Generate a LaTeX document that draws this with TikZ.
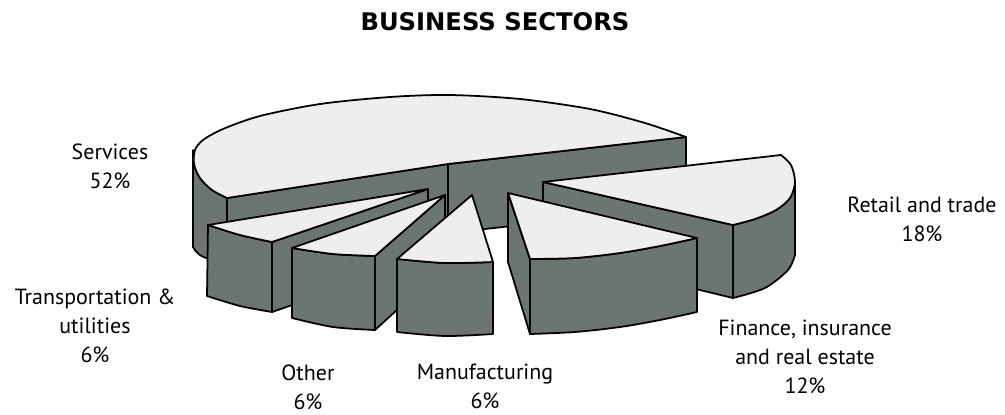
\documentclass[tikz,border=0pt]{standalone}
\usepackage{fontspec}
\setmainfont{PT Sans}
\newfontfamily\headfont{DejaVu Sans}
\usepackage{xcolor}
\usepackage{tikz}

\definecolor{pietop}{RGB}{238,238,238}
\definecolor{pieside}{RGB}{108,118,112}

\begin{document}
\begin{tikzpicture}[x=0.02cm,y=-0.02cm,line width=1pt,line join=round,
    topface/.style={draw=black,fill=pietop},
    sideface/.style={draw=black,fill=pieside},
    lbl/.style={align=center,inner sep=0pt,font=\fontsize{12.5}{16.6}\selectfont}]
        \useasboundingbox (0,0) rectangle (1005,414);
             \filldraw[sideface] (193,150) -- (193,247) .. controls (196,253) and (201,257) .. (210,259) -- (227,268) -- plot[smooth] coordinates {(227,198) (212,190) (200,178) (194,164) (193,150)} -- cycle;
             \filldraw[sideface] (227,198) -- (448,164) -- (448,233) -- (227,268) -- cycle;
             \filldraw[sideface] (448,164) -- (686,137) -- (686,207) -- (448,233) -- cycle;
             \filldraw[topface] plot[smooth] coordinates {(227,198) (212,190) (200,178) (194,164) (195,150) (203,140) (223,129) (260,116) (320,104) (390,97) (450,95) (520,99) (590,109) (645,123) (686,137)} -- (448,164) -- cycle;
             \filldraw[sideface] plot[smooth] coordinates {(733,225) (755,219) (776,210) (790,198) (795,182)} -- (795,255) -- plot[smooth] coordinates {(795,255) (788,270) (765,288) (733,298)} -- cycle;
             \filldraw[sideface] (543,182) -- (733,225) -- (733,298) -- (543,252) -- cycle;
             \filldraw[topface] (543,182) -- plot[smooth] coordinates {(781,155) (791,165) (795,182) (790,198) (776,210) (755,219) (733,225)} -- cycle;
             \filldraw[sideface] (272,242) -- (428,189) -- (428,258) -- (272,312) -- cycle;
             \filldraw[sideface] plot[smooth] coordinates {(208,225) (240,235) (272,242)} -- plot[smooth] coordinates {(272,312) (240,306) (207,296)} -- cycle;
             \filldraw[topface] (428,189) -- plot[smooth] coordinates {(208,225) (240,235) (272,242)} -- cycle;
             \filldraw[sideface] (375,256) -- (445,195) -- (445,266) -- (375,330) -- cycle;
             \filldraw[sideface] plot[smooth] coordinates {(292,248) (333,254) (375,256)} -- plot[smooth] coordinates {(375,330) (333,327) (292,318)} -- cycle;
             \filldraw[topface] (445,195) -- plot[smooth] coordinates {(292,248) (333,254) (375,256)} -- cycle;
             \filldraw[sideface] plot[smooth] coordinates {(397,259) (445,263) (493,262)} -- plot[smooth] coordinates {(493,334) (445,336) (397,332)} -- cycle;
             \filldraw[topface] (472,195) -- plot[smooth] coordinates {(397,259) (445,263) (493,262)} -- cycle;
             \filldraw[sideface] (508,193) -- (530,259) -- (530,334) -- (508,262) -- cycle;
             \filldraw[sideface] plot[smooth] coordinates {(530,259) (575,258) (620,253) (660,246) (697,238)} -- plot[smooth] coordinates {(697,312) (660,320) (620,327) (575,332) (530,334)} -- cycle;
             \filldraw[topface] (508,193) -- plot[smooth] coordinates {(530,259) (575,258) (620,253) (660,246) (697,238)} -- cycle;
        \node[inner sep=0pt,font=\headfont\bfseries\fontsize{13.8}{16}\selectfont] (title) at (495,22) {BUSINESS SECTORS};
        \node[lbl] (services) at (110,166) {Services\\52\%};
        \node[lbl] (retail) at (922,219) {Retail and trade\\18\%};
        \node[lbl] (transport) at (95,326) {Transportation \&\\utilities\\6\%};
        \node[lbl] (other) at (308,387) {Other\\6\%};
        \node[lbl] (manufacturing) at (485,386) {Manufacturing\\6\%};
        \node[lbl] (finance) at (805,357) {Finance, insurance\\and real estate\\12\%};
\end{tikzpicture}
\end{document}
